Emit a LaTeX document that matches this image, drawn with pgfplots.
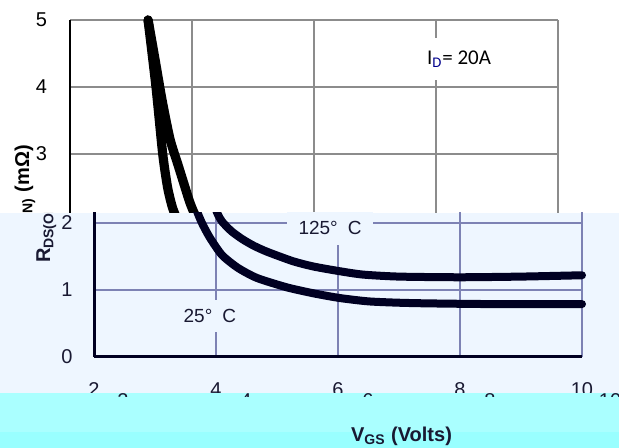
\documentclass[border=0pt]{standalone}
\usepackage{pgfplots}
\pgfplotsset{compat=1.18}
\usepackage{pgfplotstable}
\usepackage{fontspec}
\setmainfont{Liberation Sans}
\newfontfamily\calib{Carlito}
\definecolor{bgB}{RGB}{238,246,255}
\definecolor{gridB}{RGB}{125,130,180}
\definecolor{navy}{RGB}{0,0,34}
\definecolor{gridT}{RGB}{140,140,140}
\definecolor{cyanA}{RGB}{170,255,255}
\definecolor{cyanB}{RGB}{153,255,255}
\definecolor{txtB}{RGB}{25,25,50}

% 25 C
\pgfplotstableread{
V R
3.28 5.0
3.41 4.0
3.52 3.0
3.60 2.5
3.68 2.2
3.77 2.0
3.90 1.78
4.10 1.52
4.36 1.33
4.67 1.18
5.16 1.04
5.60 0.95
6.03 0.88
6.50 0.83
7.00 0.81
7.50 0.80
8.50 0.79
10 0.79
}\lowT
% 125 C
\pgfplotstableread{
V R
3.28 5.0
3.40 4.38
3.51 3.8
3.64 3.22
3.77 2.84
3.88 2.52
3.96 2.29
4.03 2.13
4.10 2.02
4.25 1.88
4.43 1.76
4.62 1.66
4.84 1.57
5.26 1.43
5.60 1.35
6.03 1.28
6.41 1.23
7.00 1.20
8.00 1.19
9.00 1.20
10 1.22
}\highT

\pgfplotsset{
  common/.style={
    width=244pt, height=167.5pt, scale only axis,
    xmin=2, xmax=10, ymin=0, ymax=5,
    xtick={2,4,6,8,10}, ytick={0,1,2,3,4,5},
    grid=major, major tick length=0pt,
    axis x line*=bottom, axis y line*=left,
    clip=false,
    /pgf/number format/assume math mode=true,
    tick label style={font=\fontsize{10}{12}\selectfont},
  }
}

\begin{document}
\begin{tikzpicture}
\path[use as bounding box] (0,0) rectangle (309.5pt,224pt);

% ---- top layer (white) ----
\begin{axis}[common, at={(35pt,46.5pt)}, anchor=south west,
  major grid style={gridT, line width=1pt},
  x axis line style={gridT, line width=1pt},
  y axis line style={black, line width=1.2pt},
  xticklabels={},
  yticklabels={,,,3,4,5},
  yticklabel style={xshift=-8pt, text=black},
]
\addplot[black, line width=4.6pt, line cap=round, smooth, tension=0.4] table[x=V,y=R] {\lowT};
\addplot[black, line width=4.6pt, line cap=round, smooth, tension=0.4] table[x=V,y=R] {\highT};
\node[fill=white, inner xsep=1.5pt, minimum height=21pt, font=\calib\fontsize{10.5}{12}\selectfont]
  at (axis cs:8.377,4.42) {I\textsubscript{\color{blue!55!black}D}= 20A};
\end{axis}
\node[rotate=90, anchor=base, font=\bfseries\fontsize{10}{12}\selectfont] at (14.5pt,122pt) {R\textsubscript{DS(ON)} (mΩ)};

% ---- bottom layer (light blue) ----
\fill[bgB] (0,27.5pt) rectangle (309.5pt,117.5pt);
\begin{scope}
\clip (0,27.5pt) rectangle (309.5pt,117.5pt);
\begin{axis}[common, at={(47pt,45.5pt)}, anchor=south west,
  major grid style={gridB, line width=1pt},
  axis line style={navy, line width=1.5pt},
  yticklabel style={xshift=-7.2pt, text=txtB},
  xticklabel style={yshift=-9.2pt, text=txtB},
]
\addplot[navy, line width=4pt, line cap=round, smooth, tension=0.4] table[x=V,y=R] {\lowT};
\addplot[navy, line width=4pt, line cap=round, smooth, tension=0.4] table[x=V,y=R] {\highT};
\node[fill=bgB, minimum width=43pt, minimum height=17pt, inner sep=0pt, text=txtB, font=\fontsize{9.5}{11}\selectfont]
  at (axis cs:5.869,1.925) {125°\hspace{5pt}C};
\node[fill=bgB, minimum width=35pt, minimum height=16pt, inner sep=0pt, text=txtB, font=\fontsize{9.5}{11}\selectfont]
  at (axis cs:3.90,0.612) {25°\hspace{5pt}C};
\end{axis}
\node[rotate=90, anchor=base, text=txtB, font=\bfseries\fontsize{10}{12}\selectfont] at (25pt,122pt) {R\textsubscript{DS(ON)} (mΩ)};
\end{scope}

% ---- cyan band ----
\fill[cyanA] (0,8pt) rectangle (309.5pt,27.5pt);
\fill[cyanB] (0,0) rectangle (309.5pt,8pt);
\begin{scope}
\clip (0,25.5pt) rectangle (309.5pt,27.5pt);
\foreach \px/\t in {123/2,246/4,368/6,490/8,610/10}{
  \node[anchor=north, inner sep=0pt, text=txtB, font=\fontsize{10}{12}\selectfont] at (\px*0.5pt,27.3pt) {\t};
}
\end{scope}
\node[anchor=base west, text=txtB, font=\bfseries\fontsize{10}{12}\selectfont] at (172pt,3pt) {V\textsubscript{GS} (Volts)};
\end{tikzpicture}
\end{document}
